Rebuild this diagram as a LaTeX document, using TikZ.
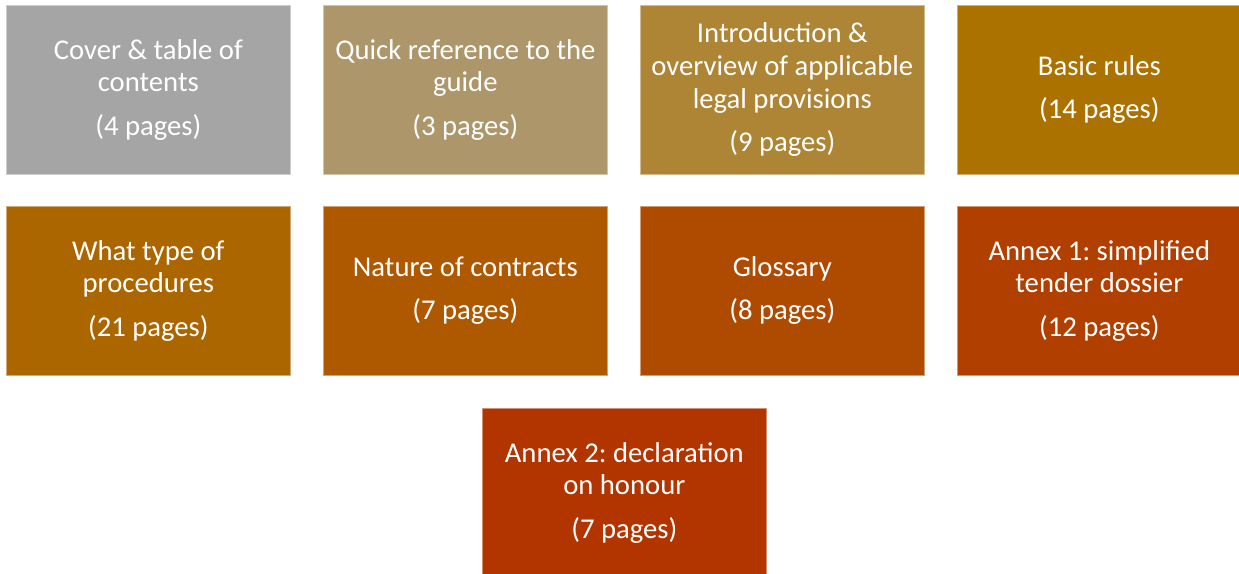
\documentclass[tikz,border=0pt]{standalone}
\usepackage{fontspec}
\setmainfont{Carlito}
\usepackage{xcolor}
\definecolor{vgray}{HTML}{A5A5A5}
\definecolor{vtan}{HTML}{AD9669}
\definecolor{vochre}{HTML}{AD8534}
\definecolor{vamber}{HTML}{AB7200}
\definecolor{vorange}{HTML}{AC6600}
\definecolor{vrust}{HTML}{AE5800}
\definecolor{vbrick}{HTML}{AF4B00}
\definecolor{vred}{HTML}{B13F00}
\definecolor{vdeep}{HTML}{B23500}

\tikzset{
	part/.style = {rectangle, fill = #1, draw = #1!55!white, line width = .5pt,
		anchor = north west, outer sep = 0pt, inner sep = 2pt,
		minimum width = 213.5pt, minimum height = 127pt,
		text = white, align = center,
		font = \fontsize{21.5}{24.5}\selectfont\frenchspacing}
}

\begin{document}
\begin{tikzpicture}[x = .75pt, y = -.75pt]
		\useasboundingbox (0,0) rectangle (1239,574);
		% first row
		\node[part = vgray] (cover) at (6,5) {Cover \& table of\\contents\\[8pt](4 pages)};
		\node[part = vtan] (quick) at (323,5) {Quick reference to the\\guide\\[8pt](3 pages)};
		\node[part = vochre] (intro) at (640,5) {Introduction \&\\overview of applicable\\legal provisions\\[8pt](9 pages)};
		\node[part = vamber] (basic) at (957,5) {Basic rules\\[8pt](14 pages)};
		% second row
		\node[part = vorange] (proc) at (6,206) {What type of\\procedures\\[8pt](21 pages)};
		\node[part = vrust] (nature) at (323,206) {Nature of contracts\\[8pt](7 pages)};
		\node[part = vbrick] (gloss) at (640,206) {Glossary\\[8pt](8 pages)};
		\node[part = vred] (annexa) at (957,206) {Annex 1: simplified\\tender dossier\\[8pt](12 pages)};
		% last one
		\node[part = vdeep] (annexb) at (482,408) {Annex 2: declaration\\on honour\\[8pt](7 pages)};
	\end{tikzpicture}
\end{document}
